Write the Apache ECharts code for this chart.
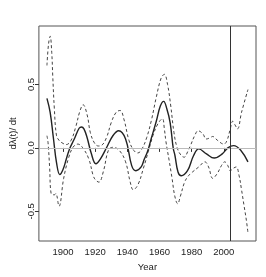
<!DOCTYPE html>
<html>
<head>
<meta charset="utf-8">
<script src="https://cdn.jsdelivr.net/npm/echarts@6/dist/echarts.min.js"></script>
<style>html,body{margin:0;padding:0;background:#fff;}#c{width:266px;height:277px;}</style>
</head>
<body>
<div id="c"></div>
<script>
// Estimated derivative curve (solid) and its pointwise bands (dashed)
const meanYears = [1890,1892,1894,1896,1898,1900,1902,1904,1907,1910,1911.5,1913,1915,1917.5,1920.4,1923.3,1927.2,1931,1934.6,1938.9,1942.7,1945.3,1948.6,1950.5,1952.5,1955,1958,1960.5,1962.6,1964.5,1966.6,1968.5,1969.6,1971.5,1973.5,1977.4,1981.2,1984.4,1989.2,1994,1999,2002.5,2006.1,2010.6,2015];
const meanVals  = [0.39,0.28,0.08,-0.12,-0.21,-0.17,-0.09,-0.01,0.07,0.155,0.165,0.15,0.08,-0.04,-0.125,-0.086,0.005,0.096,0.135,0.07,-0.14,-0.18,-0.15,-0.09,-0.03,0.08,0.21,0.33,0.367,0.31,0.2,0.0,-0.06,-0.19,-0.22,-0.18,-0.06,-0.008,-0.047,-0.08,-0.047,0.0,0.018,-0.02,-0.11];

const upperYears = [1890,1891,1892,1893,1893.6,1894.6,1895.9,1897.5,1899.4,1902,1905,1908,1910.5,1912.5,1915,1917,1919.5,1922,1924,1927,1930,1933,1935.5,1938,1941,1944,1946.5,1949,1952,1955,1958,1961,1963,1965,1967,1969,1971,1973.5,1975.4,1977.5,1979.3,1982,1984,1987,1989,1991.5,1993,1996,2000,2002,2004,2005.5,2007,2008.5,2011,2015];
const upperVals  = [0.65,0.82,0.88,0.75,0.57,0.31,0.1,0.06,0.04,0.026,0.06,0.17,0.29,0.34,0.26,0.12,0.04,0.015,0.02,0.08,0.2,0.28,0.295,0.22,0.06,-0.02,-0.04,-0.01,0.08,0.22,0.4,0.55,0.58,0.5,0.33,0.12,0.0,-0.06,-0.073,-0.03,0.02,0.1,0.135,0.11,0.07,0.08,0.09,0.06,0.03,0.06,0.15,0.21,0.18,0.15,0.28,0.46];

const lowerYears = [1890,1890.7,1891.7,1892.6,1894.6,1895.5,1897.5,1900.4,1903.3,1906.2,1909.2,1912,1916,1918.8,1920.4,1922.3,1925.2,1928.2,1931,1935,1938.9,1941.8,1943.7,1946.6,1950,1953,1956,1959,1961.8,1963,1964,1966,1967.8,1969.5,1971.3,1973,1975.6,1978,1980.5,1984.4,1988.2,1990.5,1993.1,1996,1998.5,2000.5,2002.5,2004,2006,2007.7,2009.5,2011,2012.5,2014,2015];
const lowerVals  = [0.096,0.04,-0.16,-0.36,-0.37,-0.36,-0.46,-0.24,-0.086,0.005,0.03,0.005,-0.086,-0.22,-0.255,-0.27,-0.18,-0.02,0.005,-0.02,-0.11,-0.27,-0.33,-0.29,-0.16,-0.03,0.1,0.19,0.23,0.15,0.05,-0.1,-0.24,-0.38,-0.44,-0.38,-0.27,-0.22,-0.19,-0.15,-0.11,-0.15,-0.24,-0.2,-0.14,-0.11,-0.14,-0.18,-0.16,-0.15,-0.22,-0.33,-0.45,-0.57,-0.67];

const xTicks = [1900,1920,1940,1960,1980,2000];
const yTicks = [-0.5,0.0,0.5];
const refYear = 2004;
const refLevel = 0;

const zip = (a,b) => a.map((v,i)=>[v,b[i]]);
const FONT = '"Liberation Sans Narrow","Liberation Sans",Arial,sans-serif';

const chart = echarts.init(document.getElementById('c'), null, {renderer:'canvas'});
chart.setOption({
  animation:false,
  backgroundColor:'#fff',
  grid:{left:24, top:26, width:232, height:217, show:true, borderColor:'#555', borderWidth:1, backgroundColor:'transparent'},
  xAxis:{
    type:'value', min:1885, max:2020,
    name:'Year', nameLocation:'middle', nameGap:21,
    nameTextStyle:{fontFamily:FONT, fontSize:9.5, color:'#222'},
    axisLine:{show:false},
    splitLine:{show:false},
    axisTick:{show:true, length:4, lineStyle:{color:'#333'}, customValues:xTicks},
    axisLabel:{fontFamily:FONT, fontSize:9.5, color:'#222', margin:6, customValues:xTicks, formatter:v=>String(v)}
  },
  yAxis:{
    type:'value', min:-0.734, max:0.961,
    name:'dλ(t)/ dt', nameLocation:'middle', nameGap:16, nameRotate:90,
    nameTextStyle:{fontFamily:FONT, fontSize:9.5, color:'#222'},
    axisLine:{show:false},
    splitLine:{show:false},
    axisTick:{show:true, length:4, lineStyle:{color:'#333'}, customValues:yTicks},
    axisLabel:{fontFamily:FONT, fontSize:9.5, color:'#222', margin:3, rotate:90, verticalAlign:'bottom', align:'center', customValues:yTicks, formatter:v=>v.toFixed(1)}
  },
  series:[
    {type:'line', data:[], silent:true, z:1,
      markLine:{silent:true, symbol:'none', label:{show:false}, lineStyle:{color:'#bbb', width:1, type:'solid'},
        data:[{yAxis:refLevel}]}
    },
    {type:'line', data:zip(upperYears,upperVals), showSymbol:false, smooth:0.4, lineStyle:{color:'#444', width:1, type:[3,2.5]}, z:3},
    {type:'line', data:zip(lowerYears,lowerVals), showSymbol:false, smooth:0.4, lineStyle:{color:'#444', width:1, type:[3,2.5]}, z:3},
    {type:'line', data:zip(meanYears,meanVals), showSymbol:false, smooth:0.4, lineStyle:{color:'#222', width:1.4}, z:4,
      markLine:{silent:true, symbol:'none', label:{show:false}, lineStyle:{color:'#333', width:1, type:'solid'},
        data:[{xAxis:refYear}]}
    }
  ]
});
</script>
</body>
</html>
